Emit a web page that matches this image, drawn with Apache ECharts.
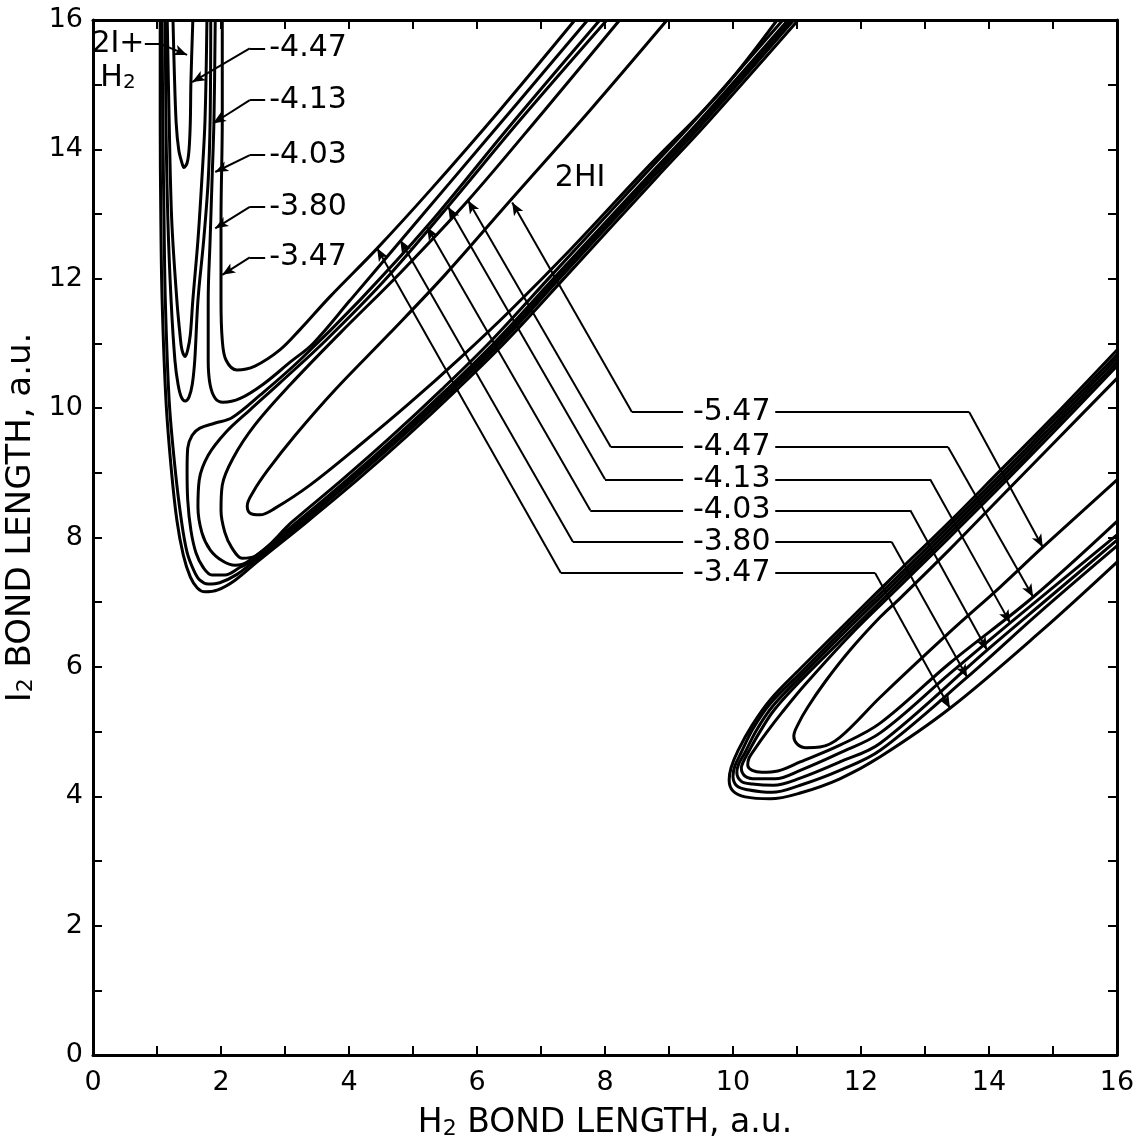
<!DOCTYPE html>
<html><head><meta charset="utf-8">
<script src="https://cdn.jsdelivr.net/npm/echarts@6/dist/echarts.min.js"></script>
<style>html,body{margin:0;padding:0;background:#fff;}#c{width:1138px;height:1142px;}</style>
</head><body><div id="c"></div>
<script>
// ---------- contour pieces (H2 bond length, I2 bond length), a.u. ----------
// upper-left: H2 + 2I channel
const ch447 = [[1.25,16],[1.27,15.22],[1.30,14.40],[1.34,13.99],[1.39,13.79],[1.42,13.72],[1.47,13.79],[1.50,13.99],[1.52,14.40],[1.53,15.04],[1.56,16]];
const ch413 = [[1.16,16],[1.19,14.45],[1.23,12.91],[1.31,11.67],[1.36,11.13],[1.39,10.90],[1.44,10.80],[1.48,10.90],[1.52,11.13],[1.56,11.67],[1.64,12.60],[1.70,13.52],[1.75,14.45],[1.78,16]];
const ch403 = [[1.13,16],[1.14,14.45],[1.17,12.91],[1.22,11.67],[1.28,10.74],[1.33,10.36],[1.38,10.17],[1.44,10.11],[1.50,10.17],[1.55,10.36],[1.59,10.74],[1.64,11.67],[1.73,12.60],[1.80,13.52],[1.83,14.45],[1.84,16]];
const link380 = [[1.91,16],[1.89,14.45],[1.86,13.52],[1.83,12.60],[1.80,11.67],[1.80,10.74],[1.83,10.36],[1.91,10.15],[2.03,10.09],[2.30,10.15],[2.66,10.37],[3.08,10.71],[3.44,11.0],[4.02,11.67],[4.80,12.58],[5.58,13.49],[6.67,14.76],[7.73,16]];
const link347 = [[2.02,16],[2.02,14.45],[2.0,12.91],[2.0,11.67],[2.02,11.05],[2.08,10.74],[2.25,10.59],[2.53,10.65],[2.92,10.90],[3.23,11.21],[3.70,11.72],[4.44,12.47],[5.27,13.37],[6.36,14.61],[7.53,16]];
const v347 = [[1.05,16],[1.05,14.45],[1.06,12.91],[1.08,11.67],[1.14,10.12],[1.22,9.09],[1.31,8.27],[1.41,7.73],[1.52,7.39],[1.63,7.22],[1.75,7.16],[1.95,7.19],[2.22,7.34],[2.56,7.62],[3.34,8.24],[4.13,8.89],[4.91,9.57],[5.69,10.29],[6.47,11.05],[7.41,12.06],[8.81,13.57],[9.59,14.40],[11.02,16]];
const v380 = [[1.08,16],[1.09,14.45],[1.11,12.91],[1.13,11.67],[1.19,10.12],[1.28,9.09],[1.38,8.27],[1.47,7.77],[1.58,7.48],[1.67,7.34],[1.80,7.28],[1.98,7.30],[2.25,7.43],[2.50,7.62],[3.28,8.24],[4.06,8.89],[4.84,9.57],[5.63,10.29],[6.41,11.05],[7.34,12.06],[8.75,13.57],[9.53,14.40],[10.95,16]];
// upper-left: 2HI valley
const hi403 = [[7.92,16],[6.52,14.37],[5.22,12.81],[4.17,11.67],[3.23,10.74],[2.61,10.20],[2.17,9.85],[1.91,9.77],[1.67,9.69],[1.55,9.58],[1.48,9.38],[1.47,9.04],[1.48,8.58],[1.53,8.11],[1.61,7.76],[1.72,7.54],[1.86,7.42],[2.06,7.42],[2.30,7.54],[2.45,7.62],[3.23,8.24],[4.02,8.89],[4.80,9.57],[5.58,10.29],[6.36,11.05],[7.30,12.06],[8.70,13.57],[9.48,14.40],[10.91,16]];
const hi413 = [[8.03,16],[6.67,14.45],[5.55,13.12],[4.56,11.98],[3.64,11.05],[2.92,10.39],[2.45,9.97],[2.08,9.63],[1.80,9.27],[1.66,8.89],[1.64,8.47],[1.70,8.08],[1.83,7.81],[2.02,7.64],[2.22,7.57],[2.41,7.62],[3.19,8.24],[3.97,8.89],[4.75,9.57],[5.53,10.29],[6.31,11.05],[7.25,12.06],[8.66,13.57],[9.44,14.40],[10.86,16]];
const hi447 = [[8.23,16],[7.06,14.61],[5.86,13.21],[4.80,12.09],[3.86,11.16],[3.08,10.36],[2.53,9.74],[2.19,9.23],[2.02,8.81],[2.0,8.42],[2.06,8.08],[2.17,7.84],[2.33,7.68],[2.53,7.71],[3.11,8.24],[3.89,8.89],[4.67,9.57],[5.45,10.29],[6.23,11.05],[7.17,12.06],[8.58,13.57],[9.36,14.40],[10.78,16]];
const hi547 = [[8.97,16],[7.77,14.61],[6.52,13.21],[5.50,12.06],[4.64,11.16],[3.78,10.28],[3.16,9.58],[2.73,9.04],[2.50,8.70],[2.41,8.49],[2.45,8.38],[2.61,8.35],[2.84,8.45],[3.39,8.81],[4.17,9.43],[4.95,10.08],[5.73,10.77],[6.52,11.51],[7.45,12.44],[8.70,13.76],[9.80,14.88],[10.69,16]];
// lower-right: 2HI valley
const lr347 = [[16,10.90],[14.95,9.81],[14.17,9.03],[13.39,8.25],[12.61,7.50],[11.83,6.74],[11.05,5.97],[10.58,5.49],[10.30,5.10],[10.08,4.71],[9.97,4.44],[9.94,4.25],[10.0,4.08],[10.19,3.99],[10.58,3.96],[11.05,4.05],[11.67,4.27],[12.30,4.61],[13.39,5.36],[14.80,6.54],[16,7.62]];
const lr380 = [[16,10.83],[14.95,9.75],[14.17,8.96],[13.39,8.19],[12.61,7.43],[11.83,6.68],[11.05,5.90],[10.58,5.43],[10.31,5.04],[10.13,4.68],[10.03,4.47],[10.0,4.31],[10.06,4.16],[10.23,4.10],[10.61,4.06],[11.05,4.17],[11.67,4.40],[12.30,4.71],[13.66,5.84],[14.80,6.85],[16,7.87]];
const lr403 = [[16,10.77],[14.95,9.69],[14.17,8.90],[13.39,8.13],[12.61,7.37],[11.83,6.62],[11.05,5.84],[10.61,5.38],[10.36,5.01],[10.19,4.68],[10.09,4.50],[10.06,4.37],[10.13,4.23],[10.30,4.19],[10.63,4.17],[11.05,4.28],[11.67,4.53],[12.30,4.82],[13.97,6.26],[14.95,7.08],[16,7.96]];
const lr413 = [[16,10.71],[14.95,9.63],[14.17,8.84],[13.39,8.07],[12.61,7.31],[11.83,6.55],[11.05,5.78],[10.64,5.33],[10.41,4.98],[10.25,4.70],[10.16,4.53],[10.13,4.44],[10.19,4.31],[10.36,4.27],[10.66,4.27],[11.05,4.40],[11.67,4.67],[12.30,4.98],[13.39,5.90],[14.33,6.68],[16,8.04]];
const lr447 = [[16,10.65],[14.95,9.57],[14.17,8.78],[13.39,8.01],[12.61,7.25],[11.83,6.49],[11.13,5.73],[10.77,5.30],[10.52,4.98],[10.34,4.73],[10.25,4.59],[10.23,4.48],[10.30,4.40],[10.45,4.37],[10.70,4.39],[11.05,4.53],[11.67,4.79],[12.30,5.13],[13.39,6.06],[14.69,7.08],[16,8.25]];
const lr547 = [[16,10.46],[14.95,9.40],[14.17,8.61],[13.39,7.82],[12.61,7.06],[12.30,6.77],[11.83,6.26],[11.44,5.77],[11.17,5.38],[11.02,5.12],[10.95,4.93],[11.0,4.81],[11.14,4.75],[11.36,4.76],[11.67,4.91],[12.30,5.53],[13.39,6.54],[14.17,7.23],[14.84,7.85],[16,8.89]];

// ---------- labels ----------
const midLevels = ['-5.47','-4.47','-4.13','-4.03','-3.80','-3.47'];
const midLabelX = 9.98;
const midLabelY = [9.94, 9.40, 8.90, 8.42, 7.93, 7.45];
const midLeftStartX = 9.22;
const midLeftCornerX = [8.42, 8.09, 8.0, 7.77, 7.50, 7.31];
const midLeftArrow = [[6.55,13.18],[5.86,13.21],[5.55,13.11],[5.22,12.80],[4.80,12.60],[4.44,12.47]];
const midRightStartX = 10.66;
const midRightCornerX = [13.69, 13.36, 13.08, 12.77, 12.48, 12.22];
const midRightArrow = [[14.84,7.85],[14.69,7.08],[14.33,6.68],[13.97,6.26],[13.66,5.84],[13.39,5.36]];

const chLevels = ['-4.47','-4.13','-4.03','-3.80','-3.47'];
const chLabelX = 3.36;
const chLabelY = [15.56, 14.76, 13.91, 13.11, 12.33];
const chStartX = 2.69;
const chCornerX = 2.45;
const chArrow = [[1.55,15.04],[1.875,14.40],[1.91,13.65],[1.91,12.78],[2.02,12.06]];

const regionLabels = [{name:'2I+', value:[0.39,15.63]}, {name:'H{s|2}', value:[0.39,15.10]}, {name:'2HI', value:[7.61,13.55]}];
const regionArrow = [[0.81,15.63],[1.05,15.63],[1.47,15.46]];

// ---------- build ----------
const FONT = 'DejaVu Sans';
const contours = [ch447, ch413, ch403, link380, link347, v347, v380, hi403, hi413, hi447, hi547, lr347, lr380, lr403, lr413, lr447, lr547];
const series = contours.map(d => ({
  type: 'line', data: d, symbol: 'none', smooth: 0.35, silent: true,
  lineStyle: {color: '#000', width: 3}, z: 3
}));

const seg = (a, b, arrow) => [{coord: a, symbol: 'none'}, {coord: b, symbol: arrow ? 'arrow' : 'none'}];
const ml = [];
midLevels.forEach((t, i) => {
  const y = midLabelY[i];
  ml.push(seg([midLeftStartX, y], [midLeftCornerX[i], y], false));
  ml.push(seg([midLeftCornerX[i], y], midLeftArrow[i], true));
  ml.push(seg([midRightStartX, y], [midRightCornerX[i], y], false));
  ml.push(seg([midRightCornerX[i], y], midRightArrow[i], true));
});
chLevels.forEach((t, i) => {
  const y = chLabelY[i];
  ml.push(seg([chStartX, y], [chCornerX, y], false));
  ml.push(seg([chCornerX, y], chArrow[i], true));
});
ml.push(seg(regionArrow[0], regionArrow[1], false));
ml.push(seg(regionArrow[1], regionArrow[2], true));

series.push({
  type: 'scatter', data: [], silent: true,
  markLine: {silent: true, animation: false, symbolSize: [8, 13], label: {show: false},
    itemStyle: {color: '#000', opacity: 1},
    lineStyle: {color: '#000', width: 2, type: 'solid', opacity: 1}, emphasis: {disabled: true}, data: ml}
});

const labelItems = [];
midLevels.forEach((t, i) => labelItems.push({name: t, value: [midLabelX, midLabelY[i]]}));
chLevels.forEach((t, i) => labelItems.push({name: t, value: [chLabelX, chLabelY[i]]}));
regionLabels.forEach(r => labelItems.push(r));
series.push({
  type: 'scatter', symbolSize: 0, silent: true, data: labelItems, z: 5,
  itemStyle: {opacity: 1, color: '#000'},
  label: {show: true, position: 'inside', formatter: '{b}', color: '#000', opacity: 1, fontFamily: FONT, fontSize: 30,
    rich: {s: {fontSize: 20, fontFamily: FONT, color: '#000', verticalAlign: 'bottom', lineHeight: 10}}},
  labelLayout: {hideOverlap: false}
});

const axisCommon = {
  type: 'value', min: 0, max: 16, interval: 2,
  axisLine: {show: true, onZero: false, lineStyle: {color: '#000', width: 3}},
  axisTick: {show: true, inside: true, length: 9, lineStyle: {color: '#000', width: 2}},
  minorTick: {show: true, splitNumber: 2, length: 9, lineStyle: {color: '#000', width: 2}},
  splitLine: {show: false}, minorSplitLine: {show: false}
};
const nameStyleX = {color: '#000', fontFamily: FONT, fontSize: 33,
  rich: {s: {fontSize: 22, fontFamily: FONT, color: '#000', verticalAlign: 'bottom', lineHeight: 8}}};
const nameStyleY = {color: '#000', fontFamily: FONT, fontSize: 34, padding: [0, 0, 0, 40],
  rich: {s: {fontSize: 22, fontFamily: FONT, color: '#000', verticalAlign: 'bottom', lineHeight: 8}}};

const option = {
  animation: false,
  backgroundColor: '#fff',
  grid: {left: 93, right: 21, top: 20, bottom: 87, containLabel: false, outerBoundsMode: 'none'},
  xAxis: [
    Object.assign({}, axisCommon, {position: 'bottom',
      axisLabel: {color: '#000', fontFamily: FONT, fontSize: 27, margin: 14},
      name: 'H{s|2} BOND LENGTH, a.u.', nameLocation: 'middle', nameGap: 52, nameTextStyle: nameStyleX}),
    Object.assign({}, axisCommon, {position: 'top', axisLabel: {show: false}})
  ],
  yAxis: [
    Object.assign({}, axisCommon, {position: 'left',
      axisLabel: {color: '#000', fontFamily: FONT, fontSize: 27, margin: 10},
      name: 'I{s|2} BOND LENGTH, a.u.', nameLocation: 'middle', nameRotate: 90, nameGap: 50, nameTextStyle: nameStyleY}),
    Object.assign({}, axisCommon, {position: 'right', axisLabel: {show: false}})
  ],
  series: series
};
const chart = echarts.init(document.getElementById('c'), null, {renderer: 'canvas'});
chart.setOption(option);
</script></body></html>
